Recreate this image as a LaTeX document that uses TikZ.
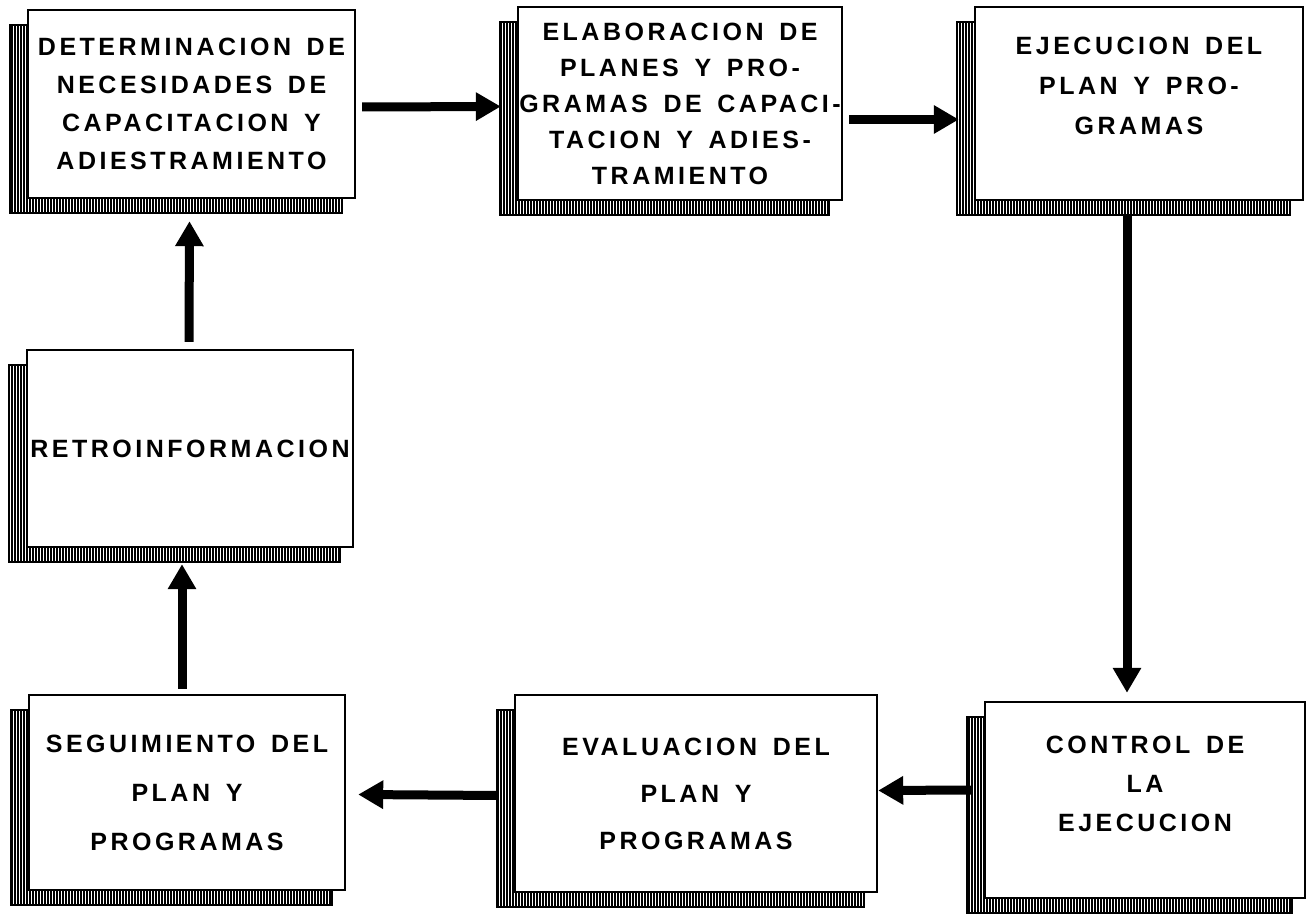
\documentclass[tikz,border=0pt]{standalone}
\usepackage{fontspec}
\setmainfont{Liberation Sans}[LetterSpace=14,WordSpace=1.5]
\usetikzlibrary{arrows.meta,calc,backgrounds,patterns.meta}

\begin{document}
\begin{tikzpicture}[x=1pt,y=-1pt,
        caja/.style={draw, line width=2.4pt, fill=white, align=center, inner sep=0pt},
        lineas/.style={font=\fontsize{25}{#1}\selectfont\bfseries},
        texto/.style={align=center, inner sep=0pt, lineas=#1},
        flecha/.style={line width=9pt, -{Triangle[length=25pt,width=27pt]}},
        sombra/.style={draw, line width=1.8pt, pattern={Lines[angle=90,distance=3pt,line width=1.8pt]}}]
    \useasboundingbox (0,0) rectangle (1310,917);
    \node[caja, lineas=38, minimum width=327, minimum height=188] (det) at (191.5,104) {DETERMINACION DE\\NECESIDADES DE\\CAPACITACION Y\\ADIESTRAMIENTO};
    \node[caja, lineas=36, minimum width=324, minimum height=193] (elab) at (680,103.5) {ELABORACION DE\\PLANES Y PRO-\\GRAMAS DE CAPACI-\\TACION Y ADIES-\\TRAMIENTO};
    \node[caja, minimum width=328, minimum height=193, label={[texto=40, yshift=18]center:EJECUCION DEL\\PLAN Y PRO-\\GRAMAS}] (ejec) at (1139,103.5) {};
    \node[caja, lineas=38, minimum width=326, minimum height=197] (retro) at (190,448.5) {RETROINFORMACION};
    \node[caja, minimum width=320, minimum height=196, label={[texto=39, yshift=16]center:CONTROL DE\\LA\\EJECUCION}] (ctrl) at (1145,800) {};
    \node[caja, lineas=47, minimum width=362, minimum height=197] (eval) at (696,793.5) {EVALUACION DEL\\PLAN Y\\PROGRAMAS};
    \node[caja, lineas=49, minimum width=316, minimum height=195] (seg) at (187,792.5) {SEGUIMIENTO DEL\\PLAN Y\\PROGRAMAS};
    \begin{scope}[on background layer]
        \foreach \n in {det,elab,ejec,retro,seg,eval,ctrl}
            \draw[sombra] ($(\n.north west)+(-17,16)$) rectangle ($(\n.south east)+(-14,14)$);
    \end{scope}
    \draw[flecha] ([xshift=6,yshift=-3]det.east) -- ([xshift=-16,yshift=-3]elab.west);
    \draw[flecha] ([xshift=6,yshift=-16]elab.east) -- ([xshift=-15,yshift=-16]ejec.west);
    \draw[flecha] ([xshift=-12,yshift=-14]ejec.south) -- ([xshift=-18,yshift=8]ctrl.north);
    \draw[flecha] ([xshift=-12,yshift=10]ctrl.west) -- ([yshift=3]eval.east);
    \draw[flecha] ([xshift=-15,yshift=-2]eval.west) -- ([xshift=12,yshift=-2]seg.east);
    \draw[flecha] ([xshift=-5,yshift=5]seg.north) -- ([xshift=-8,yshift=-16]retro.south);
    \draw[flecha] ([xshift=-1,yshift=7]retro.north) -- ([xshift=-2,yshift=-22]det.south);
\end{tikzpicture}
\end{document}
